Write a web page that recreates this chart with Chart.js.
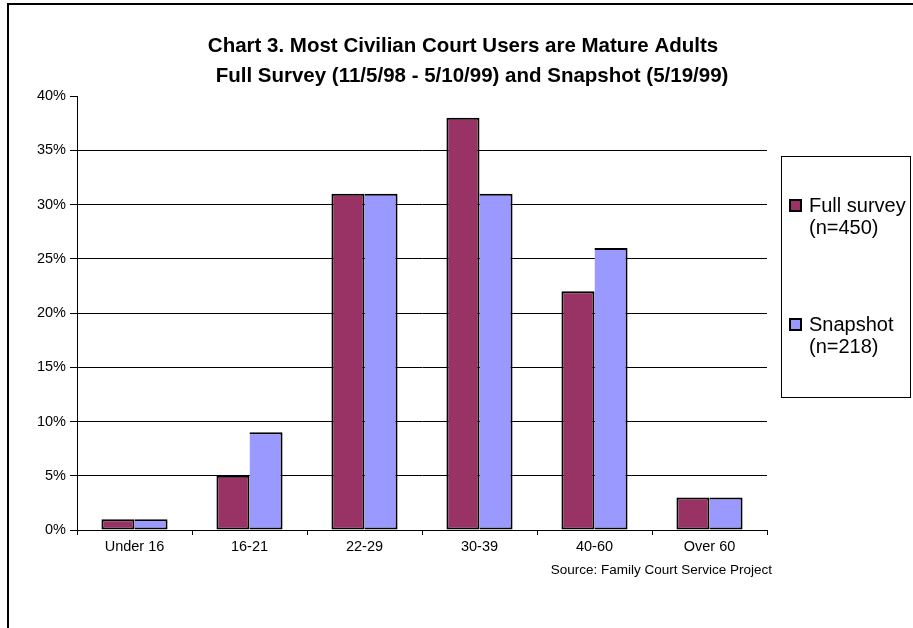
<!DOCTYPE html>
<html>
<head>
<meta charset="utf-8">
<script src="https://cdn.jsdelivr.net/npm/chart.js@4.4.1/dist/chart.umd.min.js"></script>
<style>
  html, body { margin: 0; padding: 0; background: #fff; }
  #wrap { width: 913px; height: 628px; position: relative; }
</style>
</head>
<body>
<div id="wrap"><canvas id="myChart" width="913" height="628"></canvas></div>
<script>
var categories = ['Under 16', '16-21', '22-29', '30-39', '40-60', 'Over 60'];
var fullSurvey = [1, 5, 31, 38, 22, 3];
var snapshot = [1, 9, 31, 31, 26, 3];
var seriesNames = [['Full survey', '(n=450)'], ['Snapshot', '(n=218)']];
var yTicks = [0, 5, 10, 15, 20, 25, 30, 35, 40];
var titleLines = ['Chart 3. Most Civilian Court Users are Mature Adults', 'Full Survey (11/5/98 - 5/10/99) and Snapshot (5/19/99)'];
var sourceNote = 'Source: Family Court Service Project';

var FONT = 'Arial, "Liberation Sans", sans-serif';

// title, frame, legend box and source note
var extras = {
    id: 'extras',
    afterDraw: function(chart) {
        var c = chart.ctx;
        c.save();
        // outer frame (top and left only visible)
        c.strokeStyle = '#000';
        c.lineWidth = 2;
        c.beginPath();
        c.moveTo(8, 628);
        c.lineTo(8, 4);
        c.lineTo(913, 4);
        c.stroke();

        // title
        c.fillStyle = '#000';
        c.font = 'bold 20.5px ' + FONT;
        c.textAlign = 'center';
        c.textBaseline = 'middle';
        c.fillText(titleLines[0], 463, 46);
        c.fillText(titleLines[1], 472, 76);

        // legend
        c.lineWidth = 1;
        c.strokeRect(781.5, 156.5, 129, 241);
        var ys = [206, 325];
        c.font = '20px ' + FONT;
        c.textAlign = 'left';
        chart.data.datasets.forEach(function(ds, i) {
            c.fillStyle = ds.backgroundColor;
            c.fillRect(790, ys[i] - 6, 11, 11);
            c.lineWidth = 2;
            c.strokeStyle = '#000';
            c.strokeRect(790, ys[i] - 6, 11, 11);
            c.fillStyle = '#000';
            c.fillText(seriesNames[i][0], 809, ys[i]);
            c.fillText(seriesNames[i][1], 809, ys[i] + 22);
        });

        // source
        c.font = '13.5px ' + FONT;
        c.textAlign = 'right';
        c.fillText(sourceNote, 772, 570);
        c.restore();
    }
};

var ctx = document.getElementById('myChart').getContext('2d');
var myChart = new Chart(ctx, {
    type: 'bar',
    data: {
        labels: categories,
        datasets: [{
            label: 'Full survey (n=450)',
            data: fullSurvey,
            backgroundColor: '#993366',
            borderColor: '#000',
            borderWidth: 2,
            borderSkipped: false
        }, {
            label: 'Snapshot (n=218)',
            data: snapshot,
            backgroundColor: '#9999FF',
            borderColor: '#000',
            borderWidth: 2,
            borderSkipped: 'left'
        }]
    },
    options: {
        responsive: false,
        animation: false,
        categoryPercentage: 0.575,
        barPercentage: 1.0,
        layout: { padding: { left: 7, right: 146, top: 96, bottom: 0 } },
        plugins: {
            legend: { display: false },
            tooltip: { enabled: false },
            title: { display: false }
        },
        scales: {
            x: {
                grid: { display: true, drawOnChartArea: false, tickLength: 5, color: '#000', offset: true },
                border: { display: true, color: '#000', width: 1 },
                ticks: { color: '#000', font: { family: FONT, size: 14.5 }, padding: 3, maxRotation: 0 },
                afterFit: function(scale) { scale.height = 98; }
            },
            y: {
                min: 0,
                max: 40,
                afterBuildTicks: function(scale) {
                    scale.ticks = yTicks.map(function(v) { return { value: v }; });
                },
                grid: {
                    color: function(c) { return c.tick && c.tick.value === 40 ? 'rgba(0,0,0,0)' : '#000'; },
                    tickColor: '#000',
                    tickLength: 7,
                    lineWidth: 1
                },
                border: { display: true, color: '#000', width: 1 },
                ticks: {
                    color: '#000',
                    font: { family: FONT, size: 14.5 },
                    padding: 4,
                    callback: function(v) { return v + '%'; }
                },
                afterFit: function(scale) { scale.width = 70; }
            }
        }
    },
    plugins: [extras]
});
</script>
</body>
</html>
